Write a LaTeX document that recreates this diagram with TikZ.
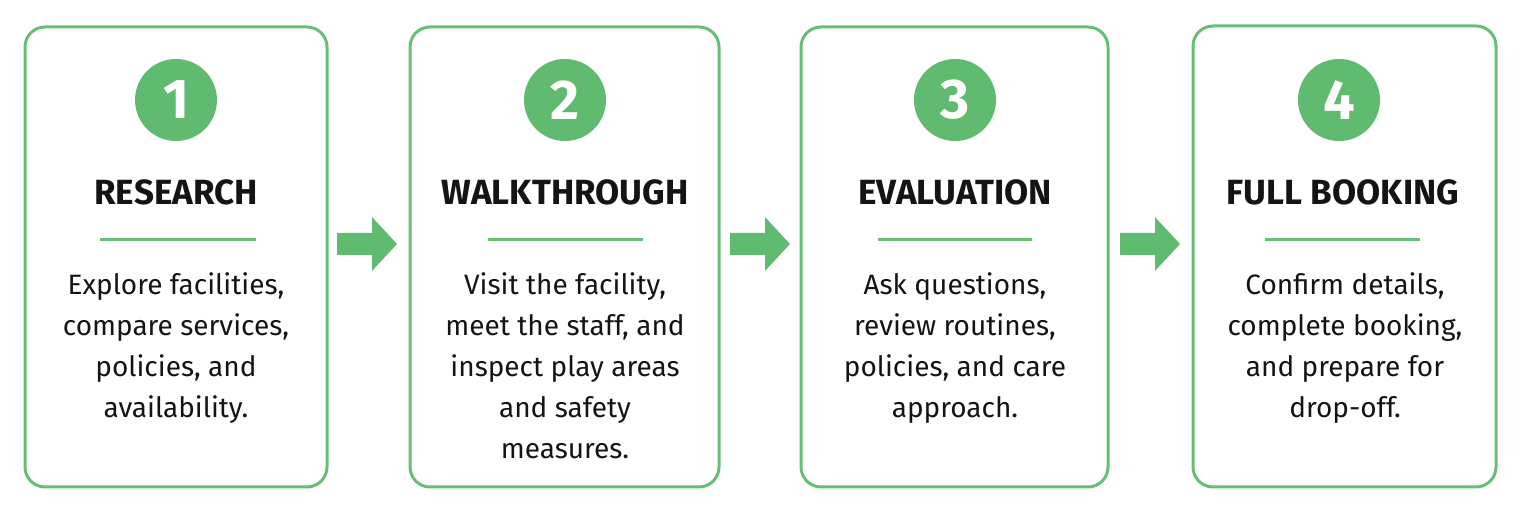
\documentclass[tikz,border=0pt]{standalone}
\usepackage{fontspec}
\setmainfont{Fira Sans}
\newfontfamily\titlefont{Fira Sans Bold}
\usetikzlibrary{calc}
\definecolor{gborder}{RGB}{104,190,118}
\definecolor{gfill}{RGB}{96,186,112}
\definecolor{txt}{RGB}{20,20,20}
\tikzset{
  card/.style={draw=gborder, line width=1.5pt, rounded corners=10pt, fill=white},
  numcirc/.style={circle, fill=gfill, minimum size=41pt, inner sep=0pt, text=white, font=\fontsize{28}{28}\selectfont\bfseries},
  title/.style={font=\titlefont\fontsize{17.5}{17.5}\selectfont, text=txt, inner sep=0pt, anchor=base},
  body/.style={font=\fontsize{14}{20.5}\selectfont, text=txt, align=center, inner sep=0pt, anchor=north},
  sep/.style={draw=gborder, line width=1.5pt},
  blockarrow/.style={fill=gfill, draw=none},
}
\begin{document}
\begin{tikzpicture}[x=0.5pt,y=-0.5pt]
\useasboundingbox (0,0) rectangle (1521,512);
% cards
\path[card] (25,27) rectangle (327,487);
\path[card] (410,27) rectangle (719,487);
\path[card] (801,27) rectangle (1108,487);
\path[card] (1193,26) rectangle (1496,487);
% circles
\node[numcirc] (c1) at (176,100) {1};
\node[numcirc] (c2) at (565,100) {2};
\node[numcirc] (c3) at (955,100) {3};
\node[numcirc] (c4) at (1339,100) {4};
% titles
\node[title] (t1) at (176,205) {RESEARCH};
\node[title] (t2) at (565,205) {WALKTHROUGH};
\node[title] (t3) at (955,205) {EVALUATION};
\node[title] (t4) at (1343,205) {FULL BOOKING};
% separators
\draw[sep] (100,240) -- (256,240);
\draw[sep] (488,240) -- (643,240);
\draw[sep] (878,240) -- (1032,240);
\draw[sep] (1265,240) -- (1420,240);
% body texts
\node[body] (d1) at (176,272) {Explore facilities,\\compare services,\\policies, and\\availability.};
\node[body] (d2) at (565,272) {Visit the facility,\\meet the staff, and\\inspect play areas\\and safety\\measures.};
\node[body] (d3) at (955,272) {Ask questions,\\review routines,\\policies, and care\\approach.};
\node[body] (d4) at (1345,272) {Confirm details,\\complete booking,\\and prepare for\\drop-off.};
% arrows
\coordinate (a1) at (337,244);
\coordinate (a2) at (730,244);
\coordinate (a3) at (1120,244);
\foreach \a in {a1,a2,a3}{
  \fill[blockarrow] ($(\a)+(0,-11)$) -- ++(35,0) -- ++(0,-16) -- ++(25,27) -- ++(-25,27) -- ++(0,-16) -- ++(-35,0) -- cycle;
}
\end{tikzpicture}
\end{document}
